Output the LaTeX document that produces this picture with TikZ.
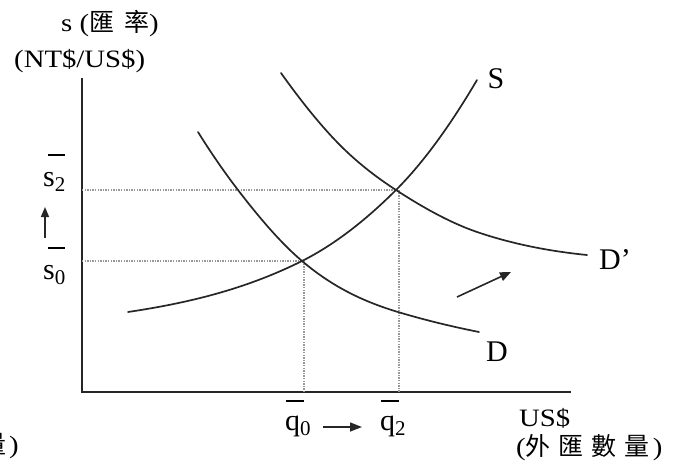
\documentclass[tikz,border=0pt]{standalone}
\usepackage{fontspec}
\setmainfont{Liberation Serif}
\newfontfamily\widefont{Liberation Serif}[FakeStretch=1.15]
\newfontfamily\cjkfont{Noto Sans CJK TC}
\usetikzlibrary{arrows.meta}
\newcommand\barlab[4]{\makebox[0pt][l]{\hspace{#1}\rule[#2]{#3}{1.6pt}}#4}
\begin{document}
\begin{tikzpicture}[x=1pt,y=-1pt,
  curve/.style={line width=1.7pt,black!85,line cap=round},
  axis/.style={line width=2.2pt,black!85},
  guide/.style={line width=1.3pt,gray!80,dash pattern=on 1.3pt off 1.3pt},
  lab/.style={font=\fontsize{25}{28}\selectfont\widefont,inner sep=0pt},
  cjklab/.style={font=\fontsize{25}{28}\selectfont\widefont,inner sep=0pt},
  sym/.style={font=\fontsize{30}{34}\selectfont,inner sep=0pt},
  curvelab/.style={font=\fontsize{30}{34}\selectfont,inner sep=0pt},
  shiftarrow/.style={-{Triangle[length=11pt,width=9pt]},line width=1.6pt,black!85}]
\path[use as bounding box] (0,0) rectangle (673,469);
\clip (0,0) rectangle (673,469);
% axes
\coordinate (O) at (82,392);
\coordinate (Ytop) at (82,78);
\coordinate (Xend) at (571,392);
\draw[axis] (Ytop) -- (O) -- (Xend);
% equilibrium points and axis feet
\coordinate (E0) at (302,261);
\coordinate (E2) at (398,190);
\coordinate (Y0) at (82,261);
\coordinate (Y2) at (82,190);
\coordinate (X0) at (304,392);
\coordinate (X2) at (399,392);
\coordinate (E0v) at (304,261);
\coordinate (E2v) at (399,190);
\draw[guide] (Y2) -- (E2v) -- (X2);
\draw[guide] (Y0) -- (E0);
\draw[guide] (E0v) -- (X0);
% supply curve S
\draw[curve] (128,312) .. controls (186,303.3) and (244,290) .. (E0)
  .. controls (333.3,245.3) and (364.7,221.3) .. (396,190)
  .. controls (423,163) and (450,125.9) .. (477,80);
% demand curve D
\draw[curve] (198,132) .. controls (211.3,153.3) and (224.7,172.7) .. (238,190)
  .. controls (259.3,217.7) and (280.7,242.9) .. (E0)
  .. controls (334,288.2) and (366,302.4) .. (398,312)
  .. controls (425,320.1) and (452,326.6) .. (479,332);
% demand curve D'
\draw[curve] (281,73) .. controls (299,98.2) and (317,121.1) .. (335,140)
  .. controls (355.3,161.3) and (375.7,176.8) .. (396,190)
  .. controls (424,208.2) and (452,223.8) .. (480,233)
  .. controls (515.7,244.8) and (551.3,251.4) .. (587,255);
% curve labels
\node[curvelab] (Slab) at (496,79) {S};
\node[curvelab] (Dlab) at (497,352) {D};
\node[curvelab] (Dplab) at (615,260) {D’};
% demand shift arrow
\coordinate (SA1) at (457,297);
\coordinate (SA2) at (511,272);
\draw[shiftarrow] (SA1) -- (SA2);
% axis titles
\node[lab,anchor=west] (ytitle) at (61,24) {s ({\cjkfont 匯\hspace{10pt}率})};
\node[lab,anchor=west] (yunit) at (14,61) {(NT\$/US\$)};
\node[lab,anchor=west] (xtitle) at (519,418) {US\$};
\node[cjklab,anchor=west] (xunit) at (516,448) {({\cjkfont 外\hspace{8pt}匯\hspace{8pt}數\hspace{8pt}量}\hspace{3pt})};
\node[cjklab,anchor=east] (xunitcut) at (19,446) {({\cjkfont 數\hspace{8pt}量}\hspace{3pt})};
% price labels
\node[sym,anchor=base west] (s2) at (43,186) {\barlab{5pt}{30pt}{17pt}{s\textsubscript{2}}};
\node[sym,anchor=base west] (s0) at (43,279) {\barlab{5pt}{30pt}{17pt}{s\textsubscript{0}}};
\coordinate (ua1) at (45,238);
\coordinate (ua2) at (45,207);
\draw[shiftarrow,-{Triangle[length=10pt,width=8pt]}] (ua1) -- (ua2);
% quantity labels
\node[sym,anchor=base west] (q0) at (285,430) {\barlab{1pt}{28pt}{18pt}{q\textsubscript{0}}};
\node[sym,anchor=base west] (q2) at (380,430) {\barlab{1pt}{28pt}{18pt}{q\textsubscript{2}}};
\coordinate (qa1) at (323,427);
\coordinate (qa2) at (362,427);
\draw[shiftarrow,-{Triangle[length=12pt,width=9pt]}] (qa1) -- (qa2);
\end{tikzpicture}
\end{document}
